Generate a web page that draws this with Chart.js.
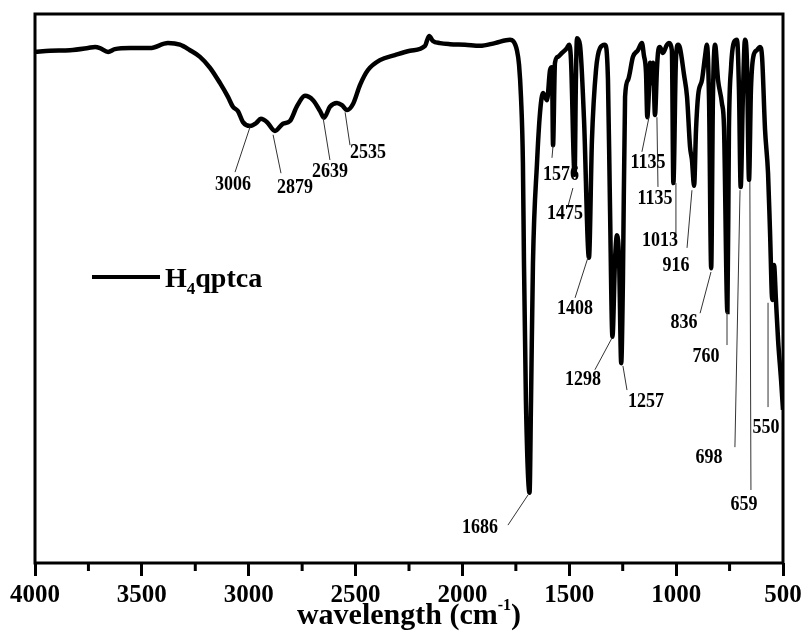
<!DOCTYPE html>
<html>
<head>
<meta charset="utf-8">
<script src="https://cdn.jsdelivr.net/npm/chart.js@4/dist/chart.umd.min.js"></script>
<style>
  body { margin: 0; background: #fff; }
  #wrap { width: 804px; height: 632px; }
</style>
</head>
<body>
<div id="wrap"><canvas id="ir"></canvas></div>
<script>
// IR spectrum of H4qptca
const wavenumbers = [
  4000, 3930, 3836, 3752, 3719, 3696, 3658, 3626, 3555, 3462,
  3378, 3322, 3275, 3228, 3181, 3134, 3097, 3074, 3050, 3027,
  2994, 2966, 2943, 2914, 2877, 2840, 2807, 2774, 2737, 2699,
  2666, 2648, 2620, 2587, 2564, 2540, 2512, 2479, 2442, 2386,
  2316, 2245, 2175, 2156, 2138, 2105, 2058, 1988, 1918, 1848,
  1777, 1763, 1745, 1735, 1726, 1717, 1712, 1703, 1686, 1679,
  1670, 1651, 1637, 1623, 1604, 1590, 1581, 1576, 1567, 1553,
  1534, 1511, 1501, 1492, 1475, 1469, 1464, 1450, 1431, 1408,
  1394, 1375, 1356, 1333, 1319, 1310, 1298, 1286, 1277, 1267,
  1257, 1249, 1239, 1225, 1202, 1179, 1160, 1151, 1141, 1135,
  1127, 1122, 1113, 1108, 1099, 1090, 1085, 1076, 1062, 1043,
  1034, 1020, 1013, 1001, 991, 982, 963, 949, 935, 926,
  916, 907, 897, 879, 865, 856, 846, 836, 828, 818,
  804, 786, 776, 760, 753, 743, 729, 715, 706, 698,
  687, 678, 669, 659, 650, 639, 622, 608, 598, 584,
  570, 561, 550, 542, 533, 523, 509, 500
];
const transmittance = [
  93.1, 93.3, 93.4, 93.8, 94.0, 93.8, 93.1, 93.6, 93.8, 93.8,
  94.7, 94.4, 93.4, 92.2, 90.2, 87.4, 84.9, 83.1, 82.3, 80.3,
  79.6, 80.1, 80.9, 80.3, 78.7, 80.0, 80.5, 83.2, 85.1, 84.3,
  82.3, 81.1, 83.1, 83.8, 83.4, 82.5, 83.6, 87.1, 89.8, 91.6,
  92.5, 93.3, 94.2, 96.0, 95.1, 94.7, 94.5, 94.4, 94.2, 94.7,
  95.3, 95.1, 93.4, 90.7, 84.9, 72.9, 54.6, 29.7, 12.8, 29.7,
  54.6, 72.9, 82.0, 85.6, 84.3, 89.8, 90.3, 76.1, 91.1, 92.2,
  92.9, 93.8, 94.4, 91.6, 70.7, 88.0, 95.6, 94.4, 80.7, 55.6,
  77.0, 89.8, 93.8, 94.4, 88.0, 66.1, 41.2, 55.2, 59.7, 55.2,
  36.4, 51.5, 84.9, 88.0, 92.2, 93.4, 94.7, 92.5, 89.3, 81.2,
  86.2, 91.1, 87.4, 91.1, 81.6, 89.8, 92.9, 94.0, 92.9, 94.4,
  94.7, 93.4, 69.2, 91.6, 94.4, 93.8, 88.9, 84.9, 75.8, 73.4,
  68.7, 78.9, 85.2, 88.0, 92.2, 94.4, 84.3, 53.7, 84.3, 94.4,
  88.0, 83.8, 79.4, 45.7, 78.9, 90.3, 94.9, 95.3, 86.2, 68.5,
  86.2, 95.3, 91.6, 69.8, 86.2, 92.2, 93.4, 94.0, 92.2, 78.9,
  71.0, 60.7, 47.9, 54.3, 47.9, 40.6, 33.3, 27.9
];
const xTicks = [4000, 3500, 3000, 2500, 2000, 1500, 1000, 500];
const minorTicks = [3750, 3250, 2750, 2250, 1750, 1250, 750];

// peak labels: text, leader from (x1,y1) to (x2,y2), text centre (tx,ty)
const peakText = ['3006', '2879', '2639', '2535', '1686', '1576', '1475', '1408', '1298', '1257',
  '1135', '1135', '1013', '916', '836', '760', '698', '659', '550'];
const leadFrom = [[2994, 79.4], [2886, 78.0], [2652, 81.1], [2549, 82.1], [1693, 12.4], [1576, 76.0],
  [1483, 68.3], [1413, 55.6], [1300, 41.0], [1249, 35.9], [1127, 81.2], [1090, 81.2], [1001, 69.2],
  [926, 67.9], [837, 53.0], [762, 45.7], [701, 67.9], [655, 69.4], [570, 47.4]];
const leadTo = [[3064, 71.2], [2849, 71.0], [2620, 73.4], [2526, 76.1], [1787, 6.9], [1581, 73.8],
  [1506, 65.0], [1473, 48.3], [1380, 35.2], [1230, 31.5], [1160, 74.9], [1085, 68.5], [1001, 60.1],
  [949, 57.4], [888, 45.5], [762, 39.7], [725, 21.1], [650, 13.3], [570, 28.4]];
const textAt = [[3074, 68.9], [2783, 68.3], [2620, 71.2], [2442, 74.7], [1918, 6.4], [1539, 70.7],
  [1520, 63.6], [1473, 46.3], [1436, 33.3], [1141, 29.3], [1132, 72.9], [1099, 66.3], [1076, 58.7],
  [1001, 54.1], [963, 43.7], [860, 37.5], [846, 19.1], [683, 10.6], [580, 24.6]];

const serif = '"Liberation Serif", "Times New Roman", serif';

const extras = {
  id: 'extras',
  afterDatasetsDraw(chart) {
    const { ctx, chartArea: a, scales: { x, y } } = chart;
    ctx.save();
    ctx.strokeStyle = '#000';
    ctx.fillStyle = '#000';

    // frame
    ctx.lineWidth = 3;
    ctx.strokeRect(a.left, a.top, a.right - a.left, a.bottom - a.top);

    // minor ticks
    ctx.beginPath();
    minorTicks.forEach(v => {
      const px = x.getPixelForValue(v);
      ctx.moveTo(px, a.bottom);
      ctx.lineTo(px, a.bottom + 8);
    });
    ctx.stroke();

    // leaders
    ctx.lineWidth = 1;
    ctx.strokeStyle = '#333';
    ctx.beginPath();
    leadFrom.forEach((p, i) => {
      ctx.moveTo(x.getPixelForValue(p[0]), y.getPixelForValue(p[1]));
      ctx.lineTo(x.getPixelForValue(leadTo[i][0]), y.getPixelForValue(leadTo[i][1]));
    });
    ctx.stroke();

    // peak labels
    ctx.font = 'bold 18px ' + serif;
    ctx.textAlign = 'center';
    ctx.textBaseline = 'middle';
    peakText.forEach((t, i) => {
      ctx.save();
      ctx.translate(x.getPixelForValue(textAt[i][0]), y.getPixelForValue(textAt[i][1]));
      ctx.scale(1, 1.12);
      ctx.fillText(t, 0, 0);
      ctx.restore();
    });

    // legend
    const lx = a.left + 57, ly = a.top + 263;
    ctx.strokeStyle = '#000';
    ctx.lineWidth = 4;
    ctx.beginPath();
    ctx.moveTo(lx, ly);
    ctx.lineTo(lx + 68, ly);
    ctx.stroke();
    ctx.textAlign = 'left';
    ctx.textBaseline = 'alphabetic';
    let tx = lx + 73;
    const base = ly + 10;
    ctx.font = 'bold 28px ' + serif;
    ctx.fillText('H', tx, base);
    tx += ctx.measureText('H').width;
    ctx.font = 'bold 17px ' + serif;
    ctx.fillText('4', tx, base + 7);
    tx += ctx.measureText('4').width;
    ctx.font = 'bold 28px ' + serif;
    ctx.fillText('qptca', tx, base);

    // axis title with superscript
    const p1 = 'wavelength (cm', sup = '-1', p2 = ')';
    ctx.font = 'bold 30px ' + serif;
    const w1 = ctx.measureText(p1).width, w3 = ctx.measureText(p2).width;
    ctx.font = 'bold 16px ' + serif;
    const w2 = ctx.measureText(sup).width;
    let sx = (a.left + a.right) / 2 - (w1 + w2 + w3) / 2;
    const sb = 624;
    ctx.font = 'bold 30px ' + serif;
    ctx.fillText(p1, sx, sb);
    sx += w1;
    ctx.font = 'bold 16px ' + serif;
    ctx.fillText(sup, sx, sb - 14);
    sx += w2;
    ctx.font = 'bold 30px ' + serif;
    ctx.fillText(p2, sx, sb);

    ctx.restore();
  }
};

new Chart(document.getElementById('ir'), {
  type: 'line',
  data: {
    datasets: [{
      label: 'H4qptca',
      data: wavenumbers.map((w, i) => ({ x: w, y: transmittance[i] })),
      borderColor: '#000',
      borderWidth: 4.5,
      pointRadius: 0,
      fill: false,
      cubicInterpolationMode: 'monotone'
    }]
  },
  options: {
    responsive: true,
    maintainAspectRatio: false,
    animation: false,
    layout: { padding: { left: 35, right: 21, top: 14, bottom: 0 } },
    plugins: { legend: { display: false }, tooltip: { enabled: false } },
    scales: {
      x: {
        type: 'linear',
        reverse: true,
        min: 500,
        max: 4000,
        afterFit: s => { s.height = 69; s.paddingLeft = 0; s.paddingRight = 0; },
        afterBuildTicks: s => { s.ticks = xTicks.map(v => ({ value: v })); },
        border: { display: false },
        grid: { drawOnChartArea: false, drawTicks: true, tickLength: 13, tickWidth: 3, tickColor: '#000' },
        ticks: {
          autoSkip: false,
          maxRotation: 0,
          padding: 5,
          color: '#000',
          font: { family: serif, size: 25, weight: 'bold' },
          callback: v => String(v)
        }
      },
      y: {
        display: false,
        min: 0,
        max: 100
      }
    }
  },
  plugins: [extras]
});
</script>
</body>
</html>
